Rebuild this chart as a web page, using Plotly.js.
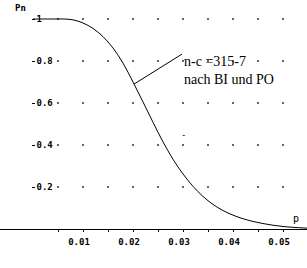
<!DOCTYPE html>
<html><head><meta charset="utf-8">
<script src="https://cdn.plot.ly/plotly-3.0.1.min.js"></script>
<style>html,body{margin:0;padding:0;background:#fff;}#c{width:307px;height:268px;}</style>
</head><body><div id="c"></div>
<script>
// Operating characteristic: defect fraction p vs acceptance probability Pn
const pValues = [0, 0.002, 0.004, 0.006, 0.008, 0.010, 0.012, 0.014, 0.016, 0.018, 0.020, 0.022, 0.024, 0.026, 0.028, 0.030, 0.032, 0.034, 0.036, 0.038, 0.040, 0.042, 0.044, 0.046, 0.048, 0.050, 0.052, 0.0548];
const pnValues = [1.000, 1.000, 1.000, 1.000, 0.996, 0.981, 0.955, 0.916, 0.862, 0.790, 0.700, 0.605, 0.508, 0.415, 0.332, 0.262, 0.203, 0.155, 0.117, 0.088, 0.066, 0.049, 0.036, 0.026, 0.018, 0.012, 0.008, 0.004];
const xTickVals = [0.01, 0.02, 0.03, 0.04, 0.05];
const xTickText = ['0.01', '0.02', '0.03', '0.04', '0.05'];
const xMinorTickVals = [0.005, 0.015, 0.025, 0.035, 0.045];
const yTickVals = [0.2, 0.4, 0.6, 0.8, 1];
const yTickText = ['0.2', '0.4', '0.6', '0.8', '1'];
const gridX = [0.005, 0.010, 0.015, 0.020, 0.025, 0.030, 0.035, 0.040, 0.045, 0.050];
const gridY = [0.2, 0.4, 0.6, 0.8, 1.0];
const annotPoint = {p: 0.0202, pn: 0.69};
const annotText = 'n-c =315-7<br>nach BI und PO';

const gx = [], gy = [];
gridX.forEach(x => gridY.forEach(y => { gx.push(x); gy.push(y); }));

const traces = [
  {x: gx, y: gy, mode: 'markers', type: 'scatter', hoverinfo: 'skip',
   marker: {symbol: 'square', size: 1.6, color: '#000', line: {width: 0}}},
  {x: pValues, y: pnValues, mode: 'lines', type: 'scatter',
   line: {color: '#000', width: 1, shape: 'spline'}}
];

const layout = {
  width: 307, height: 268,
  margin: {l: 0, r: 0, t: 0, b: 39},
  paper_bgcolor: '#fff', plot_bgcolor: '#fff',
  showlegend: false,
  font: {family: 'DejaVu Sans Mono', size: 9, color: '#000'},
  xaxis: {
    range: [-0.0066, 0.0548], showgrid: false, zeroline: false,
    showline: true, linecolor: '#000', linewidth: 1,
    ticks: 'outside', ticklen: 2, tickcolor: '#000',
    tickvals: xTickVals, ticktext: xTickText,
    ticklabelshift: -4, ticklabelstandoff: 2,
    minor: {tickvals: xMinorTickVals, ticks: 'outside', ticklen: 2, tickcolor: '#000'},
    tickfont: {family: 'DejaVu Sans Mono', size: 9, color: '#000', weight: 'bold'}
  },
  yaxis: {
    range: [0, 1.0905], showgrid: false, zeroline: false, showline: false,
    anchor: 'free', position: 0.1, side: 'right',
    ticks: 'outside', ticklen: 3, tickcolor: '#000',
    tickvals: yTickVals, ticktext: yTickText,
    tickfont: {family: 'DejaVu Sans Mono', size: 9, color: '#000', weight: 'bold'}
  },
  shapes: [
    {type: 'line', xref: 'x', yref: 'y', xsizemode: 'pixel', ysizemode: 'pixel',
     xanchor: annotPoint.p, yanchor: annotPoint.pn, x0: 0, x1: 48, y0: 0, y1: 30,
     line: {color: '#000', width: 1}}
  ],
  annotations: [
    {x: annotPoint.p, y: annotPoint.pn, xref: 'x', yref: 'y', showarrow: false,
     xanchor: 'left', yanchor: 'bottom', xshift: 48, yshift: -5, align: 'left',
     text: annotText, font: {family: 'Liberation Serif', size: 14, color: '#000'}},
    {x: 0, y: 1, xref: 'paper', yref: 'paper', yshift: -1, xshift: 13, showarrow: false,
     xanchor: 'left', yanchor: 'top', text: '<b>Pn</b>',
     font: {family: 'DejaVu Sans Mono', size: 9, color: '#000'}},
    {x: 1, y: 0, xref: 'paper', yref: 'paper', xshift: -6, yshift: 3, showarrow: false,
     xanchor: 'right', yanchor: 'bottom', text: 'p',
     font: {family: 'DejaVu Sans Mono', size: 10, color: '#000'}},
    {x: 0.03, y: 0.45, xref: 'x', yref: 'y', showarrow: false,
     xanchor: 'center', yanchor: 'middle', text: '-',
     font: {family: 'DejaVu Sans Mono', size: 9, color: '#000'}}
  ]
};

Plotly.newPlot('c', traces, layout, {staticPlot: true, displayModeBar: false});
</script></body></html>
